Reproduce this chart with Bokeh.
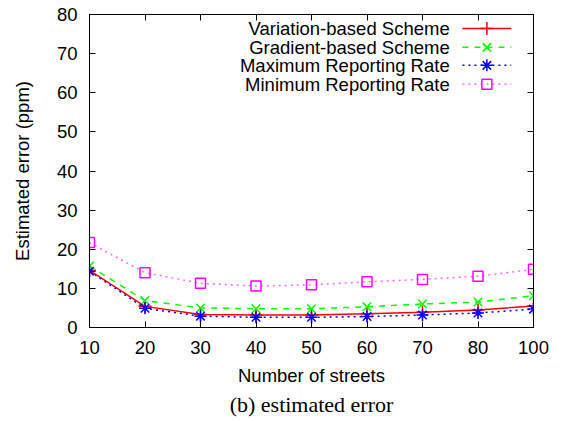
from bokeh.plotting import figure
from bokeh.models import (Range1d, FixedTicker, LinearAxis, Title)
from bokeh.embed import file_html
from bokeh.resources import INLINE
from bokeh.core.properties import value

streets = [10, 20, 30, 40, 50, 60, 70, 80, 100]
variation = [14.6, 5.4, 3.3, 3.2, 3.2, 3.5, 3.9, 4.5, 5.5]
gradient = [15.7, 6.9, 5.0, 4.8, 4.8, 5.3, 6.0, 6.5, 8.1]
max_rate = [14.4, 4.9, 2.9, 2.6, 2.6, 2.8, 3.2, 3.7, 4.7]
min_rate = [21.7, 14.0, 11.3, 10.6, 10.9, 11.7, 12.3, 13.1, 14.9]
y_ticks = [0, 10, 20, 30, 40, 50, 60, 70, 80]
names = ["Variation-based Scheme", "Gradient-based Scheme",
         "Maximum Reporting Rate", "Minimum Reporting Rate"]

xi = list(range(len(streets)))
FONT = "Liberation Sans"
FS = "18.5px"

p = figure(width=567, height=421, output_backend="svg", toolbar_location=None,
           x_range=Range1d(0, len(streets) - 1), y_range=Range1d(0, 80),
           min_border_left=89, min_border_right=34, min_border_top=14,
           min_border_bottom=94, background_fill_color="white",
           border_fill_color="white")
p.xgrid.visible = False
p.ygrid.visible = False
p.outline_line_color = "black"
p.outline_line_width = 1

def style(ax):
    ax.major_tick_in = 6
    ax.major_tick_out = 0
    ax.minor_tick_line_color = None
    ax.axis_line_color = "black"
    ax.major_tick_line_color = "black"
    ax.major_label_text_font = FONT
    ax.major_label_text_font_size = FS
    ax.major_label_text_color = "black"
    ax.axis_label_text_font = FONT
    ax.axis_label_text_font_style = "normal"
    ax.axis_label_text_font_size = FS
    ax.axis_label_text_color = "black"

xt = FixedTicker(ticks=xi)
yt = FixedTicker(ticks=y_ticks)
p.xaxis.ticker = xt
p.yaxis.ticker = yt
p.xaxis.major_label_overrides = {i: str(s) for i, s in zip(xi, streets)}
style(p.xaxis[0]); style(p.yaxis[0])
p.xaxis.axis_label = "Number of streets"
p.yaxis.axis_label = "Estimated error (ppm)"
p.xaxis.major_label_standoff = 13
p.xaxis.axis_label_standoff = 8
p.yaxis.major_label_standoff = 12
p.yaxis.axis_label_standoff = 21

top = LinearAxis(ticker=xt); style(top)
right = LinearAxis(ticker=yt); style(right)
top.major_label_overrides = {i: "" for i in xi}
right.major_label_overrides = {t: "" for t in y_ticks}
top.major_label_standoff = 0
right.major_label_standoff = 0
p.add_layout(top, "above")
p.add_layout(right, "right")

cap = Title(text="(b) estimated error", align="center", text_font="Liberation Serif",
            text_font_size="22px", text_font_style="normal", text_color="black",
            standoff=2)
p.add_layout(cap, "below")

series = [
    (variation, "#ff0000", "solid", "cross", 1.0),
    (gradient, "#00ff00", "dashed", "x", 1.0),
    (max_rate, "#0000ff", "dotted", "asterisk", 1.0),
    (min_rate, "#ff00ff", "dotted", "square", 0.6),
]
sizes = {"cross": 13, "x": 12, "asterisk": 12, "square": 10}
# legend placement (data units)
lx0, lx1, lxm, ltx = 6.72, 7.60, 7.16, 6.49
lys = [76.4, 71.6, 67.0, 62.2]
for (vals, col, dash, mk, la), name, ly in zip(series, names, lys):
    p.line(xi, vals, line_color=col, line_dash=dash, line_width=1.5, line_alpha=la)
    p.scatter(xi, vals, marker=mk, size=sizes[mk], line_color=col, fill_color=None,
              line_width=1.5)
    p.line([lx0, lx1], [ly, ly], line_color=col, line_dash=dash, line_width=1.5,
           line_alpha=la)
    p.scatter([lxm], [ly], marker=mk, size=sizes[mk], line_color=col,
              fill_color=None, line_width=1.5)
    p.text([ltx], [ly], text=[name], text_font=value(FONT), text_font_size=FS,
           text_align="right", text_baseline="middle", text_color="black")

open("out.html", "w").write(file_html(p, INLINE))
